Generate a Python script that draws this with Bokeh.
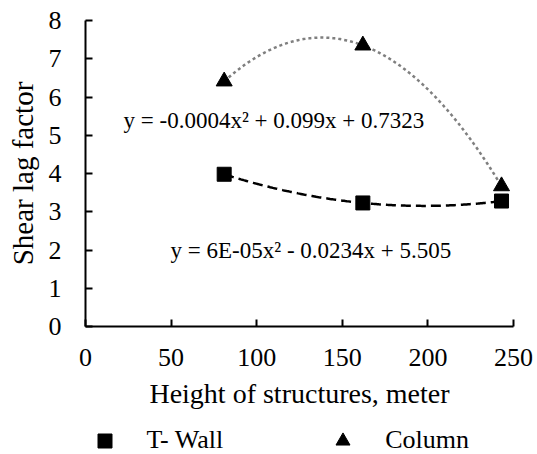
from bokeh.plotting import figure
from bokeh.layouts import column as col_layout
from bokeh.models import Range1d, FixedTicker, Legend, LegendItem, Label
from bokeh.embed import file_html
from bokeh.resources import INLINE
import numpy as np

# data
heights = [81, 162, 243]
t_wall = [3.98, 3.23, 3.28]
column = [6.41, 7.35, 3.67]
x_ticks = [0, 50, 100, 150, 200, 250]
y_ticks = [0, 1, 2, 3, 4, 5, 6, 7, 8]
series_names = ["T- Wall", "Column"]
eq_column = "y = -0.0004x\u00b2 + 0.099x + 0.7323"
eq_twall = "y = 6E-05x\u00b2 - 0.0234x + 5.505"

FONT = "Liberation Serif"
FS = "26px"

p = figure(width=537, height=416, x_range=Range1d(0, 250), y_range=Range1d(0, 8),
           output_backend="svg", toolbar_location=None,
           min_border_left=85, min_border_right=24, min_border_top=20, min_border_bottom=90)
p.outline_line_color = None
p.xgrid.visible = False
p.ygrid.visible = False
p.background_fill_color = "white"

# trendlines (quadratic fits of the data)
xs = np.linspace(heights[0], heights[-1], 200)
ct = np.polyfit(heights, t_wall, 2)
cc = np.polyfit(heights, column, 2)
p.line(xs, np.polyval(ct, xs), line_color="black", line_width=2.5, line_dash="10 5")
p.line(xs, np.polyval(cc, xs), line_color="#7f7f7f", line_width=2.5, line_dash="3 3")

p.scatter(heights, t_wall, marker="square", size=14, color="black")
p.scatter(heights, column, marker="triangle", size=16, color="black")

for ax in (p.xaxis[0], p.yaxis[0]):
    ax.axis_line_color = "black"
    ax.axis_line_width = 2
    ax.major_tick_line_color = "black"
    ax.major_tick_line_width = 2
    ax.major_tick_in = 7
    ax.major_tick_out = 0
    ax.minor_tick_line_color = None
    ax.major_label_text_font = FONT
    ax.major_label_text_font_size = FS
    ax.major_label_text_color = "black"
    ax.axis_label_text_font = FONT
    ax.axis_label_text_font_style = "normal"
    ax.axis_label_text_color = "black"

p.xaxis.axis_label_text_font_size = "28px"
p.yaxis.axis_label_text_font_size = "29px"
p.xaxis.ticker = FixedTicker(ticks=x_ticks)
p.yaxis.ticker = FixedTicker(ticks=y_ticks)
p.xaxis.axis_label = "Height of structures, meter"
p.yaxis.axis_label = "Shear lag factor"
p.xaxis.major_label_standoff = 22
p.yaxis.major_label_standoff = 24
p.xaxis.axis_label_standoff = 9
p.yaxis.axis_label_standoff = 7

p.add_layout(Label(x=22.2, y=5.385, text=eq_column, text_font=FONT, text_font_size="23px",
                   text_color="black", text_baseline="alphabetic"))
p.add_layout(Label(x=49.7, y=1.99, text=eq_twall, text_font=FONT, text_font_size="23px",
                   text_color="black", text_baseline="alphabetic"))

# legend strip (its renderers show the same series, outside this strip's view)
q = figure(width=537, height=38, output_backend="svg", toolbar_location=None,
           x_axis_type=None, y_axis_type=None, min_border=0,
           x_range=Range1d(-2, -1), y_range=Range1d(-2, -1))
q.outline_line_color = None
q.xgrid.visible = False
q.ygrid.visible = False
r_sq = q.scatter(heights, t_wall, marker="square", size=14, color="black")
r_tri = q.scatter(heights, column, marker="triangle", size=16, color="black")
legend = Legend(items=[LegendItem(label=series_names[0], renderers=[r_sq]),
                       LegendItem(label=series_names[1], renderers=[r_tri])],
                orientation="horizontal", location=(1.5, -3.5),
                glyph_width=35, glyph_height=35, label_standoff=25, spacing=102,
                padding=0, margin=0, border_line_color=None, background_fill_alpha=0,
                label_text_font=FONT, label_text_font_size=FS, label_text_color="black")
q.add_layout(legend)

layout = col_layout(p, q, spacing=0)
open("out.html", "w").write(file_html(layout, INLINE))
